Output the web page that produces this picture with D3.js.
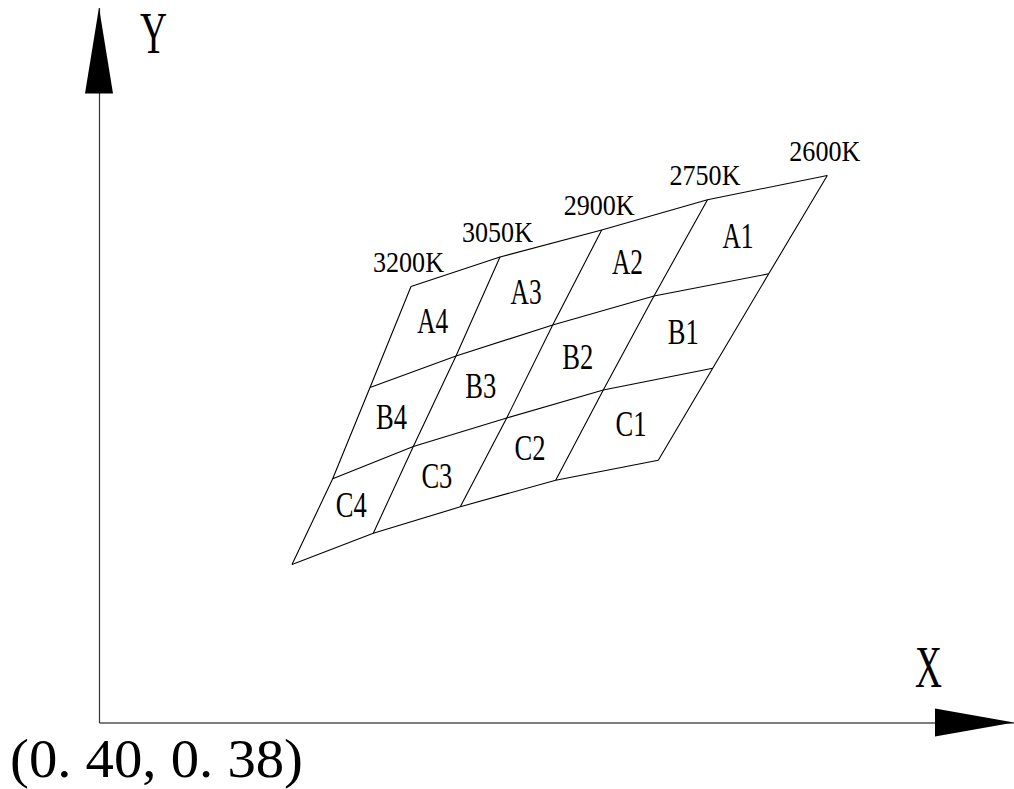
<!DOCTYPE html>
<html>
<head>
<meta charset="utf-8">
<script src="https://cdn.jsdelivr.net/npm/d3@7"></script>
<style>
  body { margin: 0; background: #fff; }
  text { font-family: "Liberation Serif", serif; fill: #000; }
</style>
</head>
<body>
<div id="chart"></div>
<script>
// schematic units: origin (0.40, 0.38) at 0,0
var tempLabels = ["3200K", "3050K", "2900K", "2750K", "2600K"];
var rowNames = ["A", "B", "C"];
var colNums = ["4", "3", "2", "1"];

// vertex rows of the grid, top to bottom, one x/y per temperature line
var topX = [312, 401, 502.7, 608.5, 728.3];
var topY = [436, 465.5, 492.5, 522.8, 547];
var abX = [271, 357, 453.7, 555, 669.7];
var abY = [335, 366.5, 397.5, 426.5, 448.7];
var bcX = [233.7, 314.3, 407.7, 504.3, 613.7];
var bcY = [243.7, 276, 304.5, 332.5, 354.3];
var botX = [193, 274.3, 361.3, 456.7, 559.3];
var botY = [158, 189.3, 215.7, 242.3, 262.3];

var originLabel = "(0. 40, 0. 38)";

var svgWidth = 1014;
var svgHeight = 789;

var svg = d3.select("#chart")
  .append("svg")
  .attr("width", svgWidth)
  .attr("height", svgHeight);

var x = d3.scaleLinear().domain([0, 915]).range([99, 1014]);
var y = d3.scaleLinear().domain([0, 715]).range([722.5, 7.5]);

// axes: just the bare lines
svg.append("g")
  .attr("transform", "translate(0,722.5)")
  .call(d3.axisBottom(x).tickValues([]).tickSizeOuter(0))
  .select(".domain").attr("stroke", "#000").attr("stroke-width", 1.2);

svg.append("g")
  .attr("transform", "translate(99,0)")
  .call(d3.axisLeft(y).tickValues([]).tickSizeOuter(0))
  .select(".domain").attr("stroke", "#333").attr("stroke-width", 1.2);

// arrow heads
svg.append("path")
  .attr("d", `M${x(0)},${y(715)}L${x(0) - 14},${y(629)}L${x(0) + 14},${y(629)}Z`)
  .attr("fill", "#000");
svg.append("path")
  .attr("d", `M${x(915)},${y(0)}L${x(836)},${y(0) - 14}L${x(836)},${y(0) + 14}Z`)
  .attr("fill", "#000");

svg.append("text")
  .attr("x", 140).attr("y", 53)
  .attr("font-size", 60)
  .attr("textLength", 27).attr("lengthAdjust", "spacingAndGlyphs")
  .text("Y");

svg.append("text")
  .attr("x", 915).attr("y", 687)
  .attr("font-size", 60)
  .attr("textLength", 27).attr("lengthAdjust", "spacingAndGlyphs")
  .text("X");

svg.append("text")
  .attr("x", 10).attr("y", 777)
  .attr("font-size", 55)
  .attr("textLength", 293).attr("lengthAdjust", "spacingAndGlyphs")
  .text(originLabel);

// grid
var rowsX = [topX, abX, bcX, botX];
var rowsY = [topY, abY, bcY, botY];
var pt = (r, c) => [x(rowsX[r][c]), y(rowsY[r][c])];

var line = d3.line();
var grid = svg.append("g")
  .attr("fill", "none")
  .attr("stroke", "#000")
  .attr("stroke-width", 1.1);

// constant-row polylines
rowsX.forEach(function(rx, r) {
  grid.append("path").attr("d", line(rx.map((v, c) => pt(r, c))));
});
// temperature lines
tempLabels.forEach(function(t, c) {
  grid.append("path").attr("d", line(rowsX.map((v, r) => pt(r, c))));
});

// temperature labels above top vertices
svg.selectAll(".temp")
  .data(tempLabels)
  .enter().append("text")
  .attr("class", "temp")
  .attr("x", (d, c) => pt(0, c)[0] - 38)
  .attr("y", (d, c) => pt(0, c)[1] - 15)
  .attr("font-size", 30)
  .attr("textLength", 71).attr("lengthAdjust", "spacingAndGlyphs")
  .text(d => d);

// cell labels at quad centroids
var cells = [];
rowNames.forEach(function(rn, r) {
  colNums.forEach(function(cn, c) {
    var q = [pt(r, c), pt(r, c + 1), pt(r + 1, c + 1), pt(r + 1, c)];
    cells.push({ name: rn + cn, cx: d3.mean(q, p => p[0]), cy: d3.mean(q, p => p[1]) });
  });
});

svg.selectAll(".cell")
  .data(cells)
  .enter().append("text")
  .attr("class", "cell")
  .attr("x", d => d.cx - 17)
  .attr("y", d => d.cy + 11.5)
  .attr("font-size", 35)
  .attr("textLength", 31).attr("lengthAdjust", "spacingAndGlyphs")
  .text(d => d.name);
</script>
</body>
</html>
